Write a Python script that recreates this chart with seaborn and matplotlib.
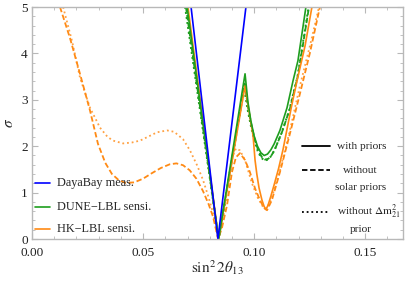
import matplotlib
matplotlib.use("Agg")
import matplotlib.pyplot as plt
import seaborn as sns
from matplotlib.ticker import MultipleLocator, FormatStrFormatter

# --- data (sin^2 2theta13 vs sigma) ---
dayabay_x = [0.0716, 0.0837, 0.0963]
dayabay_y = [5.0, 0.0, 5.0]

dune_solid_x = [0.0698, 0.0840, 0.0959, 0.0972, 0.0985, 0.1000, 0.1015, 0.1030, 0.1045,
                0.1060, 0.1075, 0.1090, 0.1116, 0.1148, 0.1175, 0.1197, 0.1233]
dune_solid_y = [5.0, 0.0, 3.56, 2.95, 2.55, 2.22, 2.00, 1.86, 1.80,
                1.83, 1.92, 2.05, 2.34, 2.83, 3.41, 3.84, 5.0]

dune_dashed_x = [0.0693, 0.0840, 0.0957, 0.0972, 0.0988, 0.1004, 0.1019, 0.1034, 0.1049,
                 0.1064, 0.1079, 0.1094, 0.1125, 0.1161, 0.1197, 0.1247]
dune_dashed_y = [5.0, 0.0, 3.35, 2.85, 2.45, 2.12, 1.90, 1.77, 1.71,
                 1.73, 1.81, 1.94, 2.30, 2.81, 3.52, 5.0]

dune_dotted_x = [0.0689, 0.0840, 0.0955, 0.0970, 0.0986, 0.1002, 0.1017, 0.1032, 0.1047,
                 0.1062, 0.1077, 0.1092, 0.1123, 0.1159, 0.1195, 0.1245]
dune_dotted_y = [5.0, 0.0, 3.25, 2.80, 2.42, 2.10, 1.88, 1.75, 1.69,
                 1.71, 1.79, 1.92, 2.28, 2.79, 3.50, 5.0]

hk_solid_x = [0.0702, 0.0840, 0.0959, 0.0977, 0.0995, 0.1004, 0.1012, 0.1022, 0.1035,
              0.1045, 0.1053, 0.1062, 0.1075, 0.1090, 0.1110, 0.1130, 0.1150, 0.1170,
              0.1193, 0.1229, 0.1260]
hk_solid_y = [5.0, 0.0, 3.30, 2.75, 2.23, 1.70, 1.40, 1.10, 0.84,
              0.70, 0.64, 0.72, 0.92, 1.17, 1.52, 1.93, 2.42, 2.90,
              3.41, 4.16, 5.0]

hk_dashed_x = [0.0126, 0.0171, 0.0216, 0.0261, 0.0297, 0.0330, 0.0360, 0.0390, 0.0420,
               0.0460, 0.0500, 0.0540, 0.0580, 0.0620, 0.0650, 0.0680, 0.0710, 0.0740,
               0.0770, 0.0795, 0.0815, 0.0838,
               0.0855, 0.0878, 0.0900, 0.0918, 0.0936, 0.0959, 0.0981, 0.1004,
               0.1026, 0.1044, 0.1058, 0.1080, 0.1116, 0.1161, 0.1206, 0.1251, 0.1296]
hk_dashed_y = [5.0, 4.33, 3.56, 2.77, 2.05, 1.64, 1.40, 1.27, 1.21,
               1.22, 1.30, 1.42, 1.53, 1.61, 1.63, 1.59, 1.48, 1.30,
               1.03, 0.75, 0.48, 0.0,
               0.24, 0.73, 1.44, 1.76, 1.85, 1.70, 1.44, 1.09,
               0.84, 0.67, 0.62, 0.84, 1.44, 2.27, 3.13, 4.01, 5.0]

hk_dotted_x = [0.0140, 0.0180, 0.0216, 0.0261, 0.0306, 0.0340, 0.0365, 0.0410, 0.0450,
               0.0486, 0.0525, 0.0563, 0.0608, 0.0640, 0.0680, 0.0711, 0.0743, 0.0770,
               0.0792, 0.0815, 0.0838,
               0.0855, 0.0873, 0.0891, 0.0905, 0.0918, 0.0936, 0.0959, 0.0990,
               0.1017, 0.1040, 0.1053, 0.1076, 0.1116, 0.1161, 0.1206, 0.1251, 0.1292]
hk_dotted_y = [5.0, 4.27, 3.48, 2.83, 2.40, 2.20, 2.12, 2.06, 2.08,
               2.12, 2.21, 2.30, 2.34, 2.31, 2.15, 1.91, 1.59, 1.27,
               0.94, 0.56, 0.0,
               0.30, 0.84, 1.48, 1.80, 1.95, 1.91, 1.70, 1.20,
               0.88, 0.69, 0.64, 0.84, 1.48, 2.34, 3.30, 4.16, 5.0]

blue = "#0000ff"
green = "#1e9e1e"
orange = "#ff8a14"
dot = (0, (1, 1.6))
dash = (0, (3, 1.5))

sns.set_style("ticks")
plt.rcParams["font.family"] = ["Liberation Serif", "DejaVu Serif"]
plt.rcParams["mathtext.fontset"] = "stix"

fig, ax = plt.subplots(figsize=(4.07, 2.82), dpi=100)
fig.subplots_adjust(left=32 / 407, right=403 / 407, bottom=43 / 282, top=1 - 7 / 282)

def curve(x, y, color, ls, lw=1.2, alpha=1.0):
    sns.lineplot(x=x, y=y, sort=False, estimator=None, ax=ax, color=color,
                 linestyle=ls, linewidth=lw, alpha=alpha)

curve(hk_dotted_x, hk_dotted_y, orange, dot, lw=1.3, alpha=0.8)
curve(hk_dashed_x, hk_dashed_y, orange, dash, lw=1.3)
curve(dune_dotted_x, dune_dotted_y, green, dot, lw=1.4)
curve(dune_dashed_x, dune_dashed_y, green, dash, lw=1.3)
curve(hk_solid_x, hk_solid_y, orange, "-")
curve(dune_solid_x, dune_solid_y, green, "-")
curve(dayabay_x, dayabay_y, blue, "-")

ax.set_xlim(0, 0.167)
ax.set_ylim(0, 5)
ax.xaxis.set_major_locator(MultipleLocator(0.05))
ax.xaxis.set_minor_locator(MultipleLocator(0.01))
ax.yaxis.set_major_locator(MultipleLocator(1))
ax.yaxis.set_minor_locator(MultipleLocator(0.2))
ax.xaxis.set_major_formatter(FormatStrFormatter("%.2f"))
ax.yaxis.set_major_formatter(FormatStrFormatter("%d"))

frame = "#b8b8b8"
for s in ax.spines.values():
    s.set_color(frame)
    s.set_linewidth(1.0)
ax.tick_params(which="both", direction="in", top=True, right=True, color=frame,
               labelsize=9.5, labelcolor="#222222")
ax.tick_params(axis="x", pad=5.5)
ax.tick_params(axis="y", pad=3)
ax.tick_params(which="major", length=4.5, width=0.8)
ax.tick_params(which="minor", length=2.5, width=0.6)

ax.set_xlabel(r"$\sin^2 2\theta_{13}$", fontsize=11, labelpad=0)
ax.set_ylabel(r"$\sigma$", fontsize=11, labelpad=4)

# left legend (colours)
tr = ax.transAxes
for yy, col, lab in [(0.241, blue, "DayaBay meas."),
                     (0.138, green, "DUNE\u2212LBL sensi."),
                     (0.043, orange, "HK\u2212LBL sensi.")]:
    ax.plot([0.008, 0.049], [yy, yy], color=col, lw=1.2, transform=tr)
    ax.text(0.068, yy, lab, transform=tr, va="center", ha="left", fontsize=8.8)

# right legend (line styles)
for yy, ls in [(0.400, "-"), (0.297, dash), (0.116, dot)]:
    ax.plot([0.728, 0.803], [yy, yy], color="k", lw=1.3, ls=ls, transform=tr)
fs = 8.2
ax.text(0.822, 0.400, "with priors", transform=tr, va="center", ha="left", fontsize=fs)
ax.text(0.885, 0.297, "without", transform=tr, va="center", ha="center", fontsize=fs)
ax.text(0.885, 0.222, "solar priors", transform=tr, va="center", ha="center", fontsize=fs)
ax.text(0.822, 0.116, r"without $\Delta\mathrm{m}^2_{21}$", transform=tr, va="center",
        ha="left", fontsize=fs)
ax.text(0.885, 0.039, "prior", transform=tr, va="center", ha="center", fontsize=fs)

fig.savefig("out.png", dpi=100)
